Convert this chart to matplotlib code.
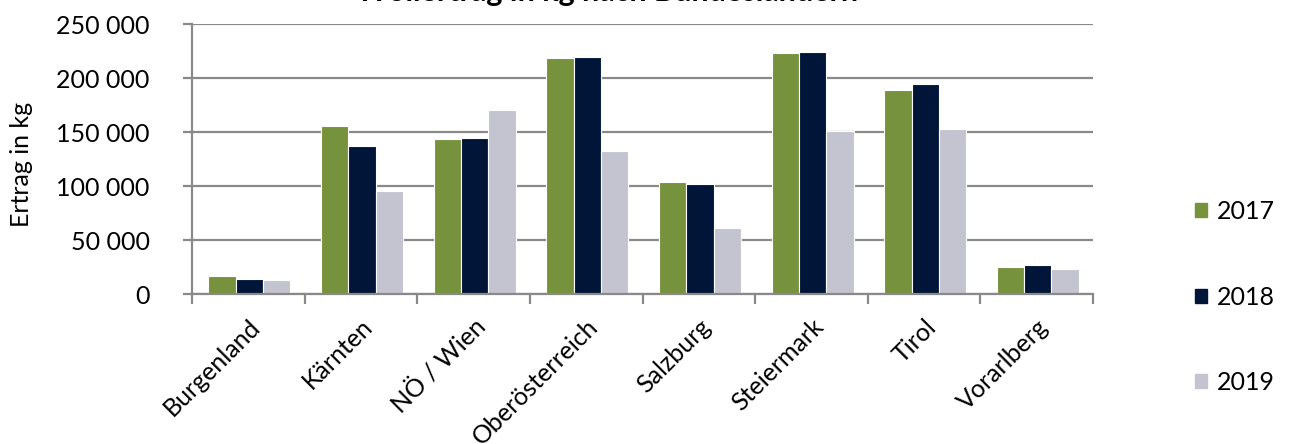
#!/usr/bin/env python3
# -*- coding: utf-8 -*-

import numpy as np
import matplotlib
matplotlib.use('Agg')
import matplotlib.pyplot as plt
from matplotlib.ticker import FuncFormatter, MultipleLocator
from matplotlib.patches import Patch

plt.rcParams['font.family']=['Lato', 'DejaVu Sans']

laender=['Burgenland', 'Kärnten', 'NÖ / Wien', 'Oberösterreich', 'Salzburg', 'Steiermark', 'Tirol', 'Vorarlberg']
jahre=['2017', '2018', '2019']
ertrag_2017=[16300, 155800, 143500, 218800, 103300, 223100, 188900, 25300]
ertrag_2018=[13900, 137000, 144700, 219700, 101500, 224100, 194700, 27100]
ertrag_2019=[13000, 95600, 170700, 132700, 61100, 150600, 152800, 23100]

farben=['#76923c', '#001538', '#c4c3d0']
grid_col='#898989'

fig=plt.figure(figsize=(12.92, 4.44), dpi=100, facecolor='white')
ax=fig.add_axes((192/1292, 1-294/444, 901/1292, 270/444))

x=np.arange(len(laender))
w=0.243
for i, (werte, f) in enumerate(zip([ertrag_2017, ertrag_2018, ertrag_2019], farben)):
    ax.bar(x+(i-1)*w+0.01, werte, width=w, color=f, edgecolor='white', linewidth=0.8, zorder=3)

ax.set_xlim(-0.5, len(laender)-0.5)
ax.set_ylim(0, 250000)
ax.yaxis.set_major_locator(MultipleLocator(50000))
ax.yaxis.set_major_formatter(FuncFormatter(lambda v, p: f'{int(v):,}'.replace(',', ' ')))
ax.grid(axis='y', color=grid_col, linewidth=1.6, zorder=0)

for s in ['top', 'right']:
    ax.spines[s].set_visible(False)
for s in ['left', 'bottom']:
    ax.spines[s].set_color(grid_col)
    ax.spines[s].set_linewidth(1.6)
    ax.spines[s].set_zorder(4)

ax.set_xticks(np.arange(len(laender)+1)-0.5, minor=True)
ax.set_xticks(x)
ax.set_xticklabels(laender, rotation=45, ha='right', rotation_mode='anchor', fontsize=18)
ax.tick_params(axis='x', which='major', length=0, pad=15)
ax.tick_params(axis='x', which='minor', length=7, width=1.6, color=grid_col)
ax.tick_params(axis='y', length=6.5, width=1.6, color=grid_col, labelsize=18, pad=24)

ax.set_ylabel('Ertrag in kg', fontsize=18, labelpad=8)
ax.yaxis.set_label_coords(-159/901, 0.48)

fig.text(0.47, 1-1.5/444, 'Wollertrag in kg nach Bundesländern', ha='center', va='baseline',
         fontsize=22, weight='bold')

handles=[Patch(color=f) for f in farben]
fig.legend(handles, jahre, loc='center left', bbox_to_anchor=(1195/1292, 1-297/444),
           frameon=False, fontsize=18, labelspacing=2.5, handlelength=0.48, handleheight=0.48,
           handletextpad=0.4, borderpad=0, borderaxespad=0)

fig.savefig('out.png', dpi=100, facecolor='white')
